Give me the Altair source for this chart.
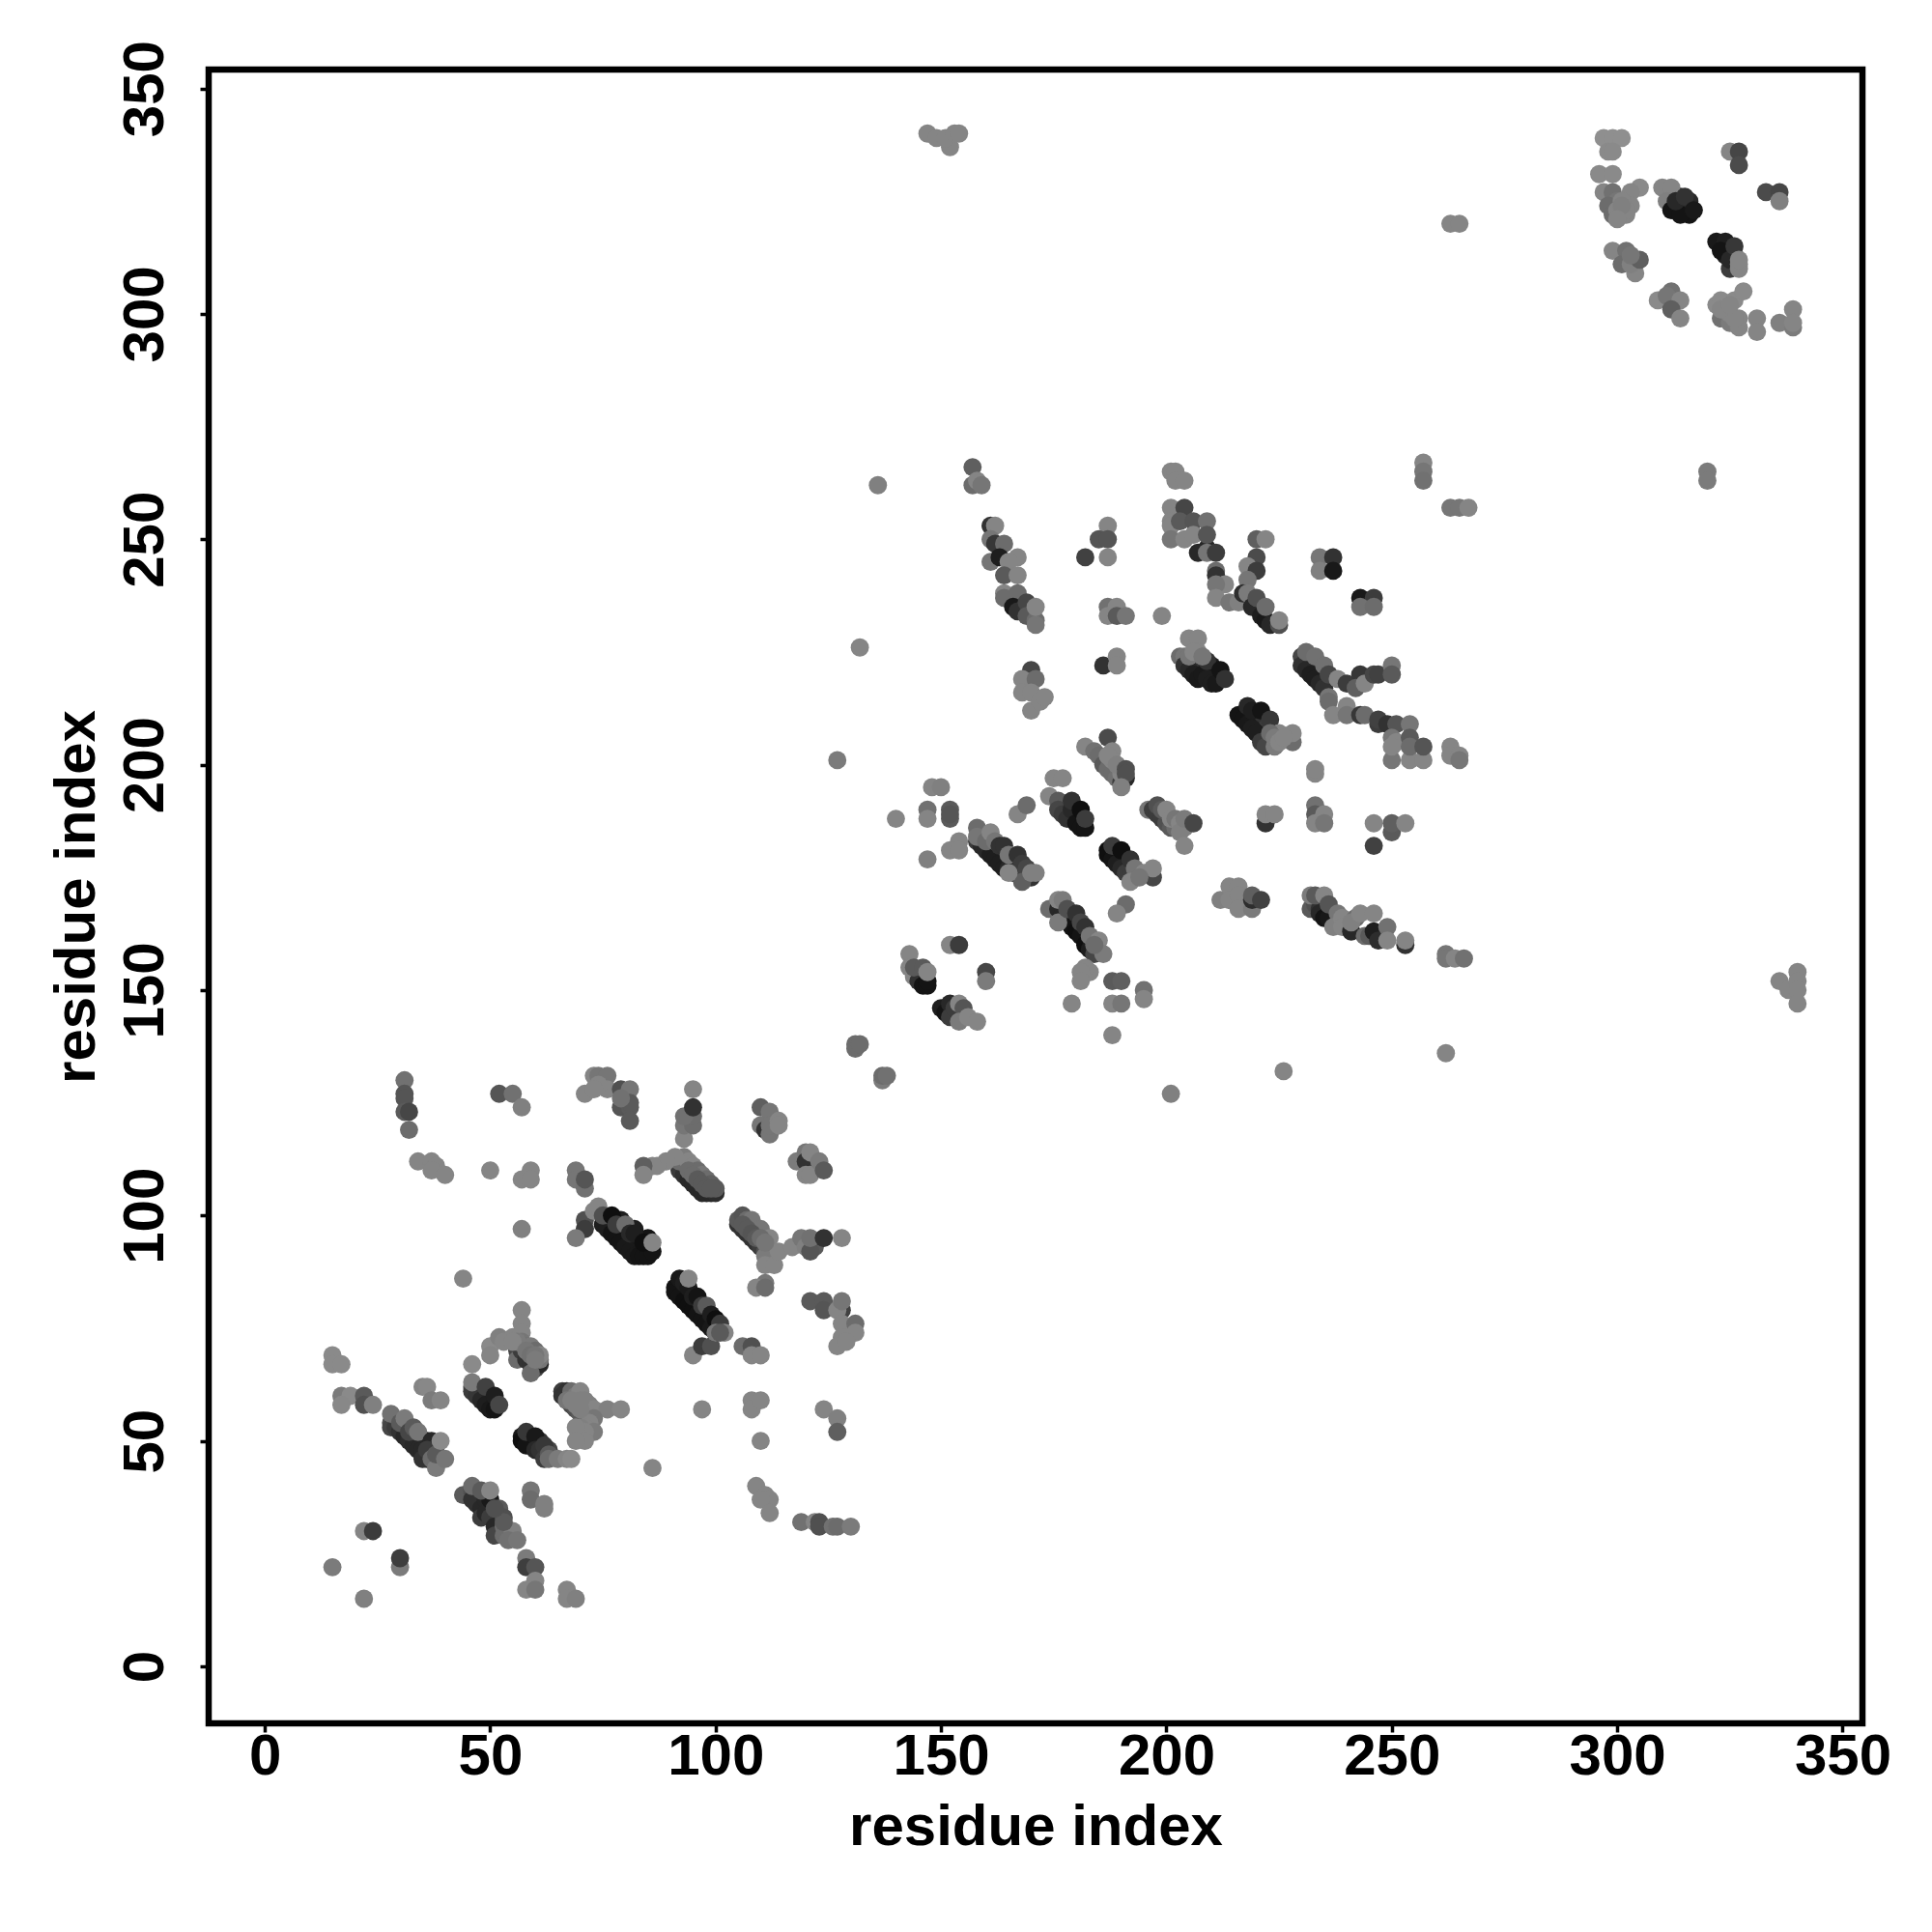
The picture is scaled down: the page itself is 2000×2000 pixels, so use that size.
import altair as alt
import pandas as pd

# (residue i, residue j, grey level), in drawing order
under_fill = [(33,51,40),(35,50,40),(36,50,35),(37,48,30),(38,49,40),(49,35,30),(50,35,50),(51,33,40),(52,32,70),(48,61,60),(50,59,30),(50,60,40),(51,59,35),(49,60,40),
    (59,50,30),(60,50,25),(61,50,50),(62,48,50),(63,48,70),(79,99,30),(82,97,30),(83,95,25),(85,95,20),(94,82,25),(96,80,25),(97,78,20),(99,77,20),
    (161,182,70),(163,180,40),(165,179,40),(166,178,40),(167,178,40),(168,177,50),(178,190,60),(180,189,30),(179,165,40),(180,165,40),(181,163,40),(182,162,50),(183,161,60),
    (189,180,25),(191,178,30),(192,177,60),(206,222,50),(207,223,70),(208,222,50),(209,221,40),(210,220,30),(210,222,30),(211,221,25),
    (219,211,30),(220,210,40),(221,209,50),(222,208,60),(232,222,60),(233,221,60),(234,220,70),(235,220,70),
    (313,324,25),(315,324,40),(316,322,20),(314,326,45),(316,325,40),(323,315,30),(324,313,30),(325,314,50),(326,313,55),(325,310,60)]
isolated_low = [(15,69,130),(15,67,130),(17,67,130),(17,60,115),(19,60,130),(17,58,128),(22,60,90),(22,58,80),(24,58,120),
    (35,62,125),(36,62,128),(37,59,115),(39,59,125),(22,30,125),(24,30,60),(30,22,115),(30,24,62),(15,22,115),(22,15,120)]
strand_a = [(28,54,80),(28,53,70),(29,53,60),(30,52,50),(31,51,40),(32,50,45),(33,49,40),(34,48,40),(35,48,40),(36,46,50),(37,47,30),
    (28,56,105),(30,54,90),(31,55,115),(32,52,70),(33,53,90),(34,52,110),(35,46,50),(37,50,40),(36,48,60),(37,46,100),(38,44,115),(38,47,90),(40,46,110),(39,50,130)]
strand_b = [(46,62,80),(46,61,60),(47,60,55),(48,59,40),(49,58,30),(50,57,25),(51,57,20),(46,67,130),(46,63,115),(49,62,65),(51,60,30),(52,58,70)]
strand_c = [(50,71,130),(50,69,125),(52,73,120),(53,72,125),(55,73,125),(57,79,125),(57,76,125),(57,74,125),(56,70,70),(56,68,100),(57,70,60),(58,68,50),(59,67,50),(60,66,70),(61,67,40),(59,65,100),
    (57,72,110),(58,71,105),(59,71,115),(60,70,100),(61,68,110),(61,69,125),(56,72,115),(55,72,125)]
strand_d = [(57,51,25),(57,50,15),(58,49,20),(58,52,55),(60,51,25),(60,48,40),(61,48,50),(62,49,55),(62,46,60),(63,47,90),(63,46,100),(65,46,115),(67,46,125),(68,46,130)]
strand_e = [(66,61,60),(66,60,50),(67,59,40),(68,58,70),(69,57,80),(70,56,90),(71,56,70),(67,61,50),(68,61,100),(69,60,115),(70,61,125),(71,59,120),(72,58,120),
    (73,57,125),(76,57,120),(79,57,125),(73,55,110),(72,54,125),(71,53,125),(70,53,120),(73,52,115),(71,52,125),(69,53,125),(71,50,125),(69,50,125)]
strand_f = [(44,38,90),(46,39,80),(47,38,70),(47,36,50),(46,37,50),(48,35,40),(49,37,40),(48,33,60),(49,34,40),(50,37,25),(50,33,60),(51,31,40),(51,29,70),
    (52,35,90),(53,33,80),(53,31,100),(53,29,100),(55,30,120),(54,28,105),(56,28,110),(46,40,100),(48,39,90),(50,39,125)]
low_misc = [(59,39,110),(59,37,100),(62,35,120),(62,36,120),(58,24,115),(58,22,62),(60,22,85),(60,19,125),(58,17,125),(60,17,110),(67,17,125),(67,15,125),(69,15,120),
    (95,69,125),(97,71,60),(99,71,80),(106,71,100),(108,71,80),(108,69,125),(110,69,125),(97,57,125),(108,59,125),(108,57,125),(110,59,125),(110,50,125),(86,44,125),
    (124,57,125),(127,55,120),(127,52,95),(109,40,125),(111,38,125),(112,37,125),(110,37,125),(112,34,125),(119,32,105),(122,32,125),(123,32,80),(123,31,80),(126,31,105),(127,31,100),(130,31,115)]
upper_left = [(31,130,105),(31,127,85),(31,126,85),(31,123,90),(32,123,70),(32,119,100),(52,127,85),(55,127,105),(57,124,120),
    (34,112,125),(37,112,125),(38,111,125),(37,110,125),(40,109,125),(50,110,125),(57,108,125),(59,110,125),(59,108,125),
    (69,110,110),(69,108,110),(71,106,105),(71,108,85),(57,97,120),(44,86,125),(71,99,80),(71,97,60),(69,95,115)]
strand_g = [(75,98,30),(76,97,30),(77,96,20),(78,95,20),(79,94,20),(80,93,25),(81,92,25),(82,91,25),(83,91,20),(84,91,20),(85,91,20),(86,92,20),
    (73,101,125),(74,102,125),(75,100,80),(77,100,15),(78,98,60),(80,98,100),(81,96,40),(82,96,30),(84,94,15),(86,94,125)]
strand_h = [(91,84,20),(91,83,20),(92,82,20),(93,81,15),(94,80,15),(95,79,15),(96,78,20),(97,77,20),(98,76,20),(99,75,25),(100,74,30),(92,86,25),(93,85,30),(94,84,25),
    (95,82,30),(96,82,20),(97,80,60),(98,80,90),(99,78,30),(100,77,15),(101,76,60),(100,74,110),(102,74,125),(94,86,125)]
strand_i = [(105,98,50),(106,97,50),(107,96,50),(108,95,50),(109,94,50),(110,93,60),(111,92,80),(105,99,90),(106,100,85),(107,99,100),(108,99,110),(110,97,110),(112,95,125),
    (111,91,115),(111,89,125),(113,89,125),(114,92,125),(111,85,110),(109,84,125),(111,84,100),(117,93,125),(119,95,110),(120,93,120),(122,93,90),(121,92,85),(121,95,105),(124,95,50),(128,95,125)]
strand_j = [(92,110,60),(93,109,50),(94,108,40),(95,107,40),(96,106,40),(97,105,40),(98,105,40),(99,105,40),(100,105,45),(92,112,100),(93,113,115),(94,112,125),(95,111,125),
    (96,110,100),(97,109,110),(98,108,100),(99,107,95),(100,106,90),(91,113,125),(89,112,125),(87,111,125),(86,111,125),(84,111,95),(84,109,125),(93,117,125),(93,120,110),(95,120,100),(95,122,100),(93,122,105),(95,124,50),(95,128,125)]
upper_mid = [(71,127,125),(73,131,125),(74,131,110),(76,131,110),(76,128,125),(74,129,125),(73,128,125),(79,128,80),(81,128,110),(79,124,85),(81,124,90),(81,125,90),(81,121,90),(79,126,105),
    (110,124,95),(112,123,110),(110,120,110),(111,119,50),(112,118,110),(112,120,110),(114,121,125),(114,120,125),
    (118,112,115),(120,114,110),(120,112,50),(120,109,125),(121,109,125),(121,114,125),(123,112,115),(124,110,90),
    (121,81,90),(124,81,90),(124,79,85),(128,79,65),(127,79,125),(128,81,110),(128,76,125),(131,76,100),(131,74,125),(128,73,125),(127,71,125),(129,72,125),
    (131,137,100),(131,138,100),(132,138,100),(137,130,115),(137,131,100),(138,131,105)]
centre_low_a = [(148,195,125),(150,195,120),(140,188,125),(147,190,105),(147,188,125),(152,190,90),(152,188,90),(152,189,85),(147,179,120),(154,183,125),(152,181,125),(154,181,125),(167,189,125),(169,191,100),
    (158,183,60),(159,182,40),(160,181,40),(161,180,30),(162,179,30),(163,178,30),(164,177,30),(165,177,40),(166,176,60),(167,176,50),(168,175,60),(170,175,50),
    (158,186,100),(158,184,110),(160,183,100),(161,185,125),(162,183,110),(163,182,50),(164,182,50),(165,180,110),(167,180,50),(168,178,60),(169,177,70),(168,174,95),(165,176,125),(170,176,120),(171,176,120)]
centre_low_b = [(174,193,125),(175,197,125),(177,197,125),(176,192,90),(176,190,70),(177,189,60),(178,188,50),(179,190,40),(180,187,20),(181,186,20),(182,186,20),(179,192,50),(181,190,15),(182,188,60),
    (182,204,125),(187,206,75),(184,203,105),(185,202,100),(186,200,90),(187,199,100),(188,198,100),(189,197,105),(190,196,60),(191,197,40),(190,198,125),(188,203,125),(188,201,125),(187,202,125),(189,200,120),(191,199,80),(191,198,80),(190,195,120),
    (187,181,15),(187,180,15),(188,179,20),(189,178,30),(190,177,40),(191,176,60),(192,175,60),(188,182,60),(190,181,15),(192,179,50),(193,177,110),(192,174,125),(195,176,125),(197,175,70),(197,177,125)]
centre_low_c = [(174,168,100),(176,168,40),(177,167,40),(178,166,40),(179,164,20),(180,163,15),(181,162,20),(182,160,15),(183,159,30),(184,158,70),(176,165,115),(176,170,125),(177,170,115),(178,168,80),(180,167,50),(181,165,70),(182,164,50),(183,162,110),(185,161,125),(186,158,115),
    (183,154,125),(182,155,125),(181,154,125),(181,152,125),(188,152,90),(190,152,95),(188,147,125),(190,147,110),(179,147,125),(195,150,105),(195,148,125),(188,140,125),(191,169,100),(189,167,125)]
centre_low_d = [(143,158,125),(143,155,125),(144,153,125),(145,152,50),(146,151,20),(147,151,20),(147,152,20),(144,155,90),(146,155,90),(147,154,125),(152,160,125),(154,160,60),(160,154,70),(160,152,115),
    (150,146,30),(151,145,20),(152,147,40),(152,144,60),(153,146,60),(154,147,125),(155,146,85),(154,143,115),(156,144,125),(158,143,125)]
centre_right_a = [(196,190,110),(197,190,60),(198,189,60),(199,188,60),(200,187,80),(201,186,90),(202,186,100),(198,191,80),(199,190,90),(200,190,125),(201,188,125),(202,188,110),(203,187,125),(204,186,120),(203,185,120),(204,188,115),(204,182,125),(206,187,70),
    (222,187,50),(222,189,125),(224,189,125),(233,191,105),(233,189,90),(233,187,125),(235,189,125),(235,187,110),(233,198,125),(246,187,125),(250,185,90),(250,187,95),(253,187,125),(246,182,65),
    (212,170,120),(214,173,125),(216,173,125),(214,170,125),(216,171,125),(216,168,125),(219,168,115),(219,170,45),(219,171,95),(221,170,65)]
centre_right_b = [(232,168,90),(233,169,80),(234,168,50),(234,167,40),(235,166,20),(236,166,25),(232,171,115),(233,171,90),(235,171,125),(236,169,85),(238,167,110),(237,164,120),(239,166,125),(239,164,125),(241,163,40),(242,166,100),(241,165,120),(244,162,100),(243,167,125),(245,162,90),(246,163,30),(246,167,125),(247,161,45),(249,164,105),(249,161,125),(253,160,50),(253,161,125),
    (262,158,110),(262,157,110),(264,157,125),(266,157,105),(262,136,125),(226,132,125),(201,127,120),(136,262,120),(132,226,125),(127,201,115)]
centre_top_a = [(157,266,95),(157,262,100),(158,263,125),(159,262,110),(161,253,50),(162,253,125),(161,250,110),(162,249,55),(164,249,100),(161,245,110),(163,246,30),(167,246,125),(165,245,125),(164,242,90),(167,242,125),
    (164,238,125),(164,237,100),(167,238,100),(166,235,25),(167,234,50),(169,236,70),(169,233,90),(171,232,100),(171,231,110),(171,235,125),
    (187,253,125),(185,250,85),(187,250,85),(182,246,65),(187,246,125),(187,235,105),(187,233,125),(189,235,125),(189,233,90),(191,233,110),(199,233,125),
    (170,221,70),(168,219,125),(171,219,100),(168,216,125),(170,216,125),(170,212,125),(172,214,125),(173,215,125),(186,222,50),(189,224,125),(189,222,125)]
centre_top_b = [(201,265,125),(202,265,125),(202,263,125),(204,263,125),(201,257,125),(204,257,70),(201,254,125),(201,253,125),(201,250,110),(203,254,90),(204,250,125),(206,254,85),(206,251,125),(209,254,105),(209,248,40),(209,251,85),(207,247,40),(209,247,110),(211,247,60),(211,243,100),(211,242,50),(213,240,125),(211,240,110),(211,237,125),(214,236,110),(216,236,120),
    (220,250,95),(222,250,125),(220,246,75),(218,244,125),(220,243,60),(218,241,110),(217,238,45),(218,238,115),(219,235,40),(220,237,80),(221,233,30),(222,232,25),(222,235,100),(223,231,40),(225,231,80),(225,232,125)]
centre_right_c = [(234,246,110),(237,246,50),(234,243,120),(237,243,25),(243,237,25),(246,237,60),(243,235,105),(246,235,100),
    (203,224,100),(204,224,110),(204,222,50),(205,221,40),(206,220,30),(207,219,25),(208,220,25),(209,219,30),(210,218,30),(211,218,25),(205,228,125),(207,228,125),(207,225,125),(209,223,50),(212,221,20),(213,219,50),
    (216,211,20),(217,210,20),(218,209,25),(219,208,30),(220,207,30),(221,205,60),(222,204,70),(218,213,40),(219,212,30),(221,212,20),(223,210,55),(225,207,125),(224,204,115),(228,205,100),(228,207,125)]
centre_right_d = [(230,224,70),(230,222,50),(231,221,40),(232,220,30),(233,219,30),(234,218,40),(235,217,50),(231,225,100),(233,224,105),(235,222,105),(236,220,70),(238,219,125),(240,218,60),(243,220,55),(242,217,95),(244,218,125),(246,220,70),(247,220,65),(250,222,110),(250,220,90),
    (236,215,110),(236,214,100),(237,211,125),(240,213,125),(240,211,110),(243,211,55),(244,211,100),(247,209,60),(247,210,65),(249,209,50),(251,209,85),(254,209,110),(250,206,110),(251,205,125),(254,206,90),
    (250,201,110),(254,201,125),(257,201,125),(250,204,125),(254,204,100),(257,204,85),(263,204,125),(263,202,125),(265,202,125),(265,201,110),(233,199,125),
    (257,267,125),(257,265,110),(257,263,105),(263,257,110),(265,257,110),(267,257,125)]
corner_top = [(297,339,135),(299,339,135),(301,339,135),(298,336,130),(299,336,130),(296,331,130),(299,331,130),(305,328,130),(297,327,125),(299,327,105),(300,325,110),(303,327,125),(298,324,100),(303,324,125),(299,322,100),(302,322,125),
    (299,314,125),(302,314,105),(301,311,100),(304,309,125),(303,311,120),(305,312,95),(309,303,130),(312,305,105),(311,304,110),(314,303,125),(312,301,95),(314,299,125),
    (322,302,130),(323,303,130),(326,303,130),(328,305,130),(323,299,105),(325,298,115),(327,297,125),(327,299,125),(331,299,125),(331,296,125),(336,298,120),(339,301,125),(339,297,115),(339,298,125),
    (310,328,125),(312,328,125),(311,325,120),(312,323,20),(314,322,20),(313,325,40),(315,326,50),(317,323,25),(322,316,25),(324,316,30),(323,314,20),(325,312,40),(326,315,55),(327,311,125),(327,310,125),
    (325,336,125),(327,336,70),(327,333,75),(333,327,75),(336,327,70),(336,325,120)]
far_points = [(147,340,125),(149,339,125),(152,337,125),(151,339,125),(153,340,125),(154,340,125),(263,320,125),(265,320,125),(320,265,115),(320,263,115),
    (336,152,125),(338,150,125),(340,154,125),(340,152,125),(340,150,125),(340,147,125)]
over_fill = [(94,110,100),(95,109,100),(96,108,90),(97,107,90),(98,106,90),(99,106,90),(106,98,90),(107,97,90),(108,96,85),(109,95,90),(110,95,100),(111,94,110),
    (58,70,110),(59,69,105),(60,69,110),(60,68,115),(67,59,110),(68,59,120),(69,58,120),(70,57,120),(70,59,120),(53,32,90),(51,35,80),(101,74,90),
    (184,160,100),(194,175,110),(205,224,110),(206,225,125),(208,224,110),(223,207,100),(224,206,115),(225,205,125),(226,206,125),
    (327,312,125),(300,323,125),(301,325,125),(302,323,125),(301,324,120),(300,321,125),(303,313,110),(324,301,125),(325,300,125),(326,299,125),(323,301,125),(325,302,125)]

clusters = [under_fill, isolated_low, strand_a, strand_b, strand_c, strand_d, strand_e, strand_f, low_misc, upper_left, strand_g, strand_h, strand_i, strand_j, upper_mid,
            centre_low_a, centre_low_b, centre_low_c, centre_low_d, centre_right_a, centre_right_b, centre_top_a, centre_top_b, centre_right_c, centre_right_d, corner_top, far_points, over_fill]
rows = [p for c in clusters for p in c]
df = pd.DataFrame(rows, columns=["i", "j", "g"])
df["tone"] = [g + 8 if g >= 100 else g for g in df["g"]]
df["colour"] = [f"rgb({g},{g},{g})" for g in df["tone"]]
df["n"] = range(len(df))

ticks = [0, 50, 100, 150, 200, 250, 300, 350]
FONT = "Liberation Sans"

chart = (
    alt.Chart(df)
    .mark_circle(size=355, opacity=1, strokeWidth=0)
    .encode(
        x=alt.X("i:Q", scale=alt.Scale(domain=[-12.45, 354.4], nice=False, zero=False),
                axis=alt.Axis(values=ticks, title="residue index", grid=False, domain=False,
                              tickColor="black", tickWidth=3.5, tickSize=9, labelFlush=False,
                              labelFont=FONT, labelFontSize=60, labelFontWeight="bold", labelColor="black",
                              labelPadding=-4, labelOverlap=False,
                              titleFont=FONT, titleFontSize=60, titleFontWeight="bold", titleColor="black",
                              titlePadding=14)),
        y=alt.Y("j:Q", scale=alt.Scale(domain=[-12.65, 354.2], nice=False, zero=False),
                axis=alt.Axis(values=ticks, title="residue index", grid=False, domain=False,
                              tickColor="black", tickWidth=3.5, tickSize=9, labelAngle=270, labelFlush=False,
                              labelFont=FONT, labelFontSize=60, labelFontWeight="bold", labelColor="black",
                              labelPadding=26, labelOverlap=False, labelBaseline="bottom", labelAlign="center",
                              titleFont=FONT, titleFontSize=60, titleFontWeight="bold", titleColor="black",
                              titlePadding=10)),
        color=alt.Color("colour:N", scale=None),
        order=alt.Order("n:Q"),
    )
    .properties(width=1712, height=1712, autosize=alt.AutoSizeParams(type="none"),
                padding={"left": 208, "top": 64, "right": 50, "bottom": 150})
    .configure_view(stroke="black", strokeWidth=6.5)
)

chart.save("out.html", embed_options={"renderer": "svg", "actions": False})
